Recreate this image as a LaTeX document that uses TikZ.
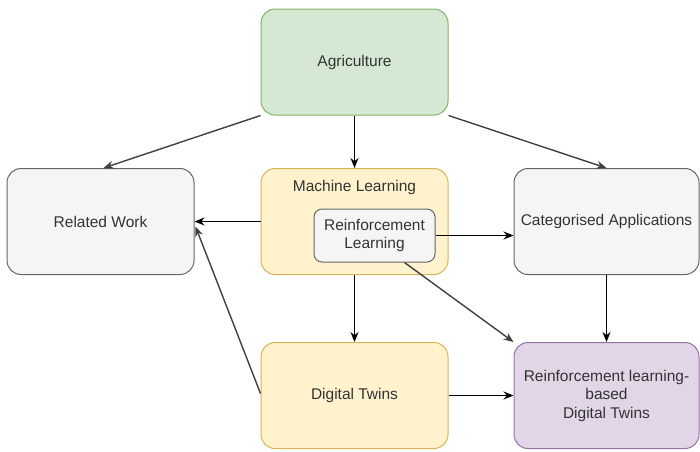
\documentclass[tikz,border=0pt]{standalone}
\usepackage{fontspec}
\setmainfont{Liberation Sans}
\usetikzlibrary{arrows.meta,calc}
\definecolor{gfill}{HTML}{D5E8D4}\definecolor{gdraw}{HTML}{82B366}
\definecolor{yfill}{HTML}{FFF2CC}\definecolor{ydraw}{HTML}{D6B656}
\definecolor{nfill}{HTML}{F5F5F5}\definecolor{ndraw}{HTML}{666666}
\definecolor{pfill}{HTML}{E1D5E7}\definecolor{pdraw}{HTML}{9673A6}
\definecolor{txt}{HTML}{333333}
\begin{document}
\begin{tikzpicture}[x=1pt,y=-1pt,
  box/.style={rectangle,rounded corners=14pt,line width=1pt,minimum width=187pt,minimum height=106pt,
    align=center,text=txt,font=\fontsize{15.5}{18.5}\selectfont,inner sep=2pt},
  green/.style={box,fill=gfill,draw=gdraw},
  yellow/.style={box,fill=yfill,draw=ydraw},
  grey/.style={box,fill=nfill,draw=ndraw},
  purple/.style={box,fill=pfill,draw=pdraw},
  arr/.style={line width=1.4pt,-{Stealth[length=10pt,width=8pt]},black},
  garr/.style={arr,draw=black!75}]
\useasboundingbox (0,0) rectangle (700,451);
\node[green] (agri) at (354.5,62) {Agriculture};
\node[grey] (rw) at (100.5,221.5) {Related Work};
\node[yellow] (ml) at (354.5,221.5) {};
\node[text=txt,font=\fontsize{15.5}{18.5}\selectfont] (mlt) at (354.5,187) {Machine Learning};
\node[grey,minimum width=121pt,minimum height=53pt,rounded corners=8pt] (rl) at (374.5,235.5) {Reinforcement\\Learning};
\node[grey,minimum width=185pt] (cat) at (606.5,221.5) {Categorised Applications};
\node[yellow] (dt) at (354.5,395.5) {Digital Twins};
\node[purple,minimum width=185pt] (rldt) at (606.5,395.5) {Reinforcement learning-\\based\\Digital Twins};
\draw[arr] (agri.south) -- (ml.north);
\draw[garr] (agri.south west) -- ($(rw.north)+(3,0)$);
\draw[garr] (agri.south east) -- (cat.north);
\draw[arr] (ml.west) -- (rw.east);
\draw[arr] (rl.east) -- (cat.west |- rl.east);
\draw[garr] ($(rl.south)+(30,0)$) -- (rldt.north west);
\draw[arr] (ml.south) -- (dt.north);
\draw[garr] ($(dt.west)+(0,-2)$) -- ($(rw.east)+(1,5)$);
\draw[arr] (dt.east) -- (rldt.west);
\draw[arr] (cat.south) -- (rldt.north);
\end{tikzpicture}
\end{document}
